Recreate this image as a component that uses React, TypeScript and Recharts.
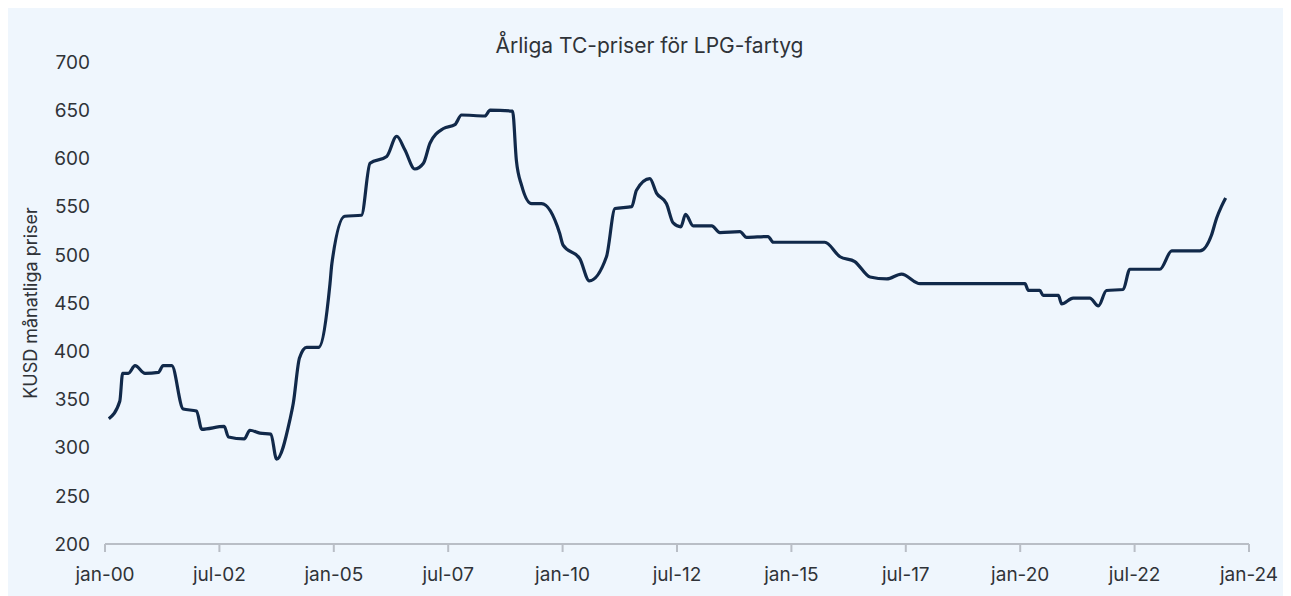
import React from 'react';
import { LineChart, Line, XAxis, YAxis } from 'recharts';

// years since jan-2000 (decimal) and monthly TC price, KUSD
const years = [
  0.08, 0.31, 0.37, 0.49, 0.63, 0.84, 1.12, 1.22, 1.4, 1.64, 1.92, 2.03, 2.5, 2.59, 2.92, 3.04,
  3.25, 3.48, 3.6, 3.88, 3.95, 4.08, 4.23, 4.48, 4.72, 4.76, 5.03, 5.38, 5.56, 5.91, 6.12, 6.29,
  6.5, 6.68, 6.82, 7.1, 7.34, 7.48, 7.97, 8.08, 8.55, 8.63, 8.74, 8.95, 9.16, 9.54, 9.61, 9.96,
  10.16, 10.52, 10.7, 11.05, 11.15, 11.43, 11.57, 11.78, 11.92, 12.08, 12.18, 12.34, 12.73, 12.9,
  13.32, 13.46, 13.91, 14.02, 15.1, 15.42, 15.73, 16.05, 16.4, 16.71, 17.1, 18.77, 19.3, 19.37,
  19.61, 19.68, 20.0, 20.07, 20.31, 20.66, 20.84, 21.01, 21.36, 21.5, 22.13, 22.38, 22.97, 23.21,
  23.32, 23.42, 23.51,
];

const prices = [
  330, 348, 377, 377, 385, 377, 378, 385, 385, 340, 338, 319, 322, 311, 309, 318,
  315, 314, 288, 329, 346, 393, 404, 404, 470, 491, 540, 541, 595, 602, 623, 609,
  589, 595, 616, 631, 635, 645, 644, 650, 649, 598, 572, 553, 553, 522, 510, 496,
  473, 498, 548, 550, 567, 579, 564, 553, 533, 529, 542, 530, 530, 523,
  524, 518, 519, 513, 513, 498, 493, 477, 475, 480, 470, 470, 470, 463,
  463, 458, 458, 449, 455, 455, 447, 463, 464, 485, 485, 504, 504, 520,
  538, 550, 559,
];

const tickLabels = [
  'jan-00', 'jul-02', 'jan-05', 'jul-07', 'jan-10', 'jul-12',
  'jan-15', 'jul-17', 'jan-20', 'jul-22', 'jan-24',
];
const yTicks = [200, 250, 300, 350, 400, 450, 500, 550, 600, 650, 700];

const data = years.map((t, i) => ({ t, price: prices[i] }));
const xTicks = tickLabels.map((_, i) => i * 2.4);

const textColor = '#2f3338';
const axisColor = '#b9bec6';
const font = 'Inter, "Noto Sans", sans-serif';

const YLabel = ({ viewBox }: any) => {
  const cy = viewBox.y + viewBox.height / 2;
  return (
    <text
      x={22} y={cy} transform={`rotate(-90, 22, ${cy})`}
      textAnchor="middle" dominantBaseline="central"
      fill={textColor} fontSize={18} fontFamily={font}
    >
      KUSD månatliga priser
    </text>
  );
};

export default function App() {
  return (
    <div style={{ position: 'relative', width: 1300, height: 610, background: '#eff6fd', fontFamily: font }}>
      <style>{'html, body { overflow: hidden; }'}</style>
      <div
        style={{
          position: 'absolute', top: 25, left: 0, width: 1283, textAlign: 'center',
          fontSize: 21, color: textColor,
        }}
      >
        Årliga TC-priser för LPG-fartyg
      </div>
      <LineChart width={1283} height={588} data={data} margin={{ top: 54, right: 42, bottom: 0, left: 0 }}>
        <XAxis
          type="number" dataKey="t" domain={[0, 24]} ticks={xTicks} interval={0}
          tickFormatter={(_v, i) => tickLabels[i]}
          height={52} tickSize={8} tickMargin={16}
          axisLine={{ stroke: axisColor, strokeWidth: 2 }}
          tickLine={{ stroke: axisColor, strokeWidth: 2 }}
          tick={{ fill: textColor, fontSize: 19, fontFamily: font }}
        />
        <YAxis
          type="number" domain={[200, 700]} ticks={yTicks} interval={0} width={97}
          axisLine={false} tickLine={false} tickSize={0} tickMargin={15}
          tick={{ fill: textColor, fontSize: 19, fontFamily: font }}
          label={<YLabel />}
        />
        <Line
          type="monotone" dataKey="price" stroke="#11294a" strokeWidth={3.2}
          dot={false} activeDot={false} isAnimationActive={false}
        />
      </LineChart>
    </div>
  );
}
